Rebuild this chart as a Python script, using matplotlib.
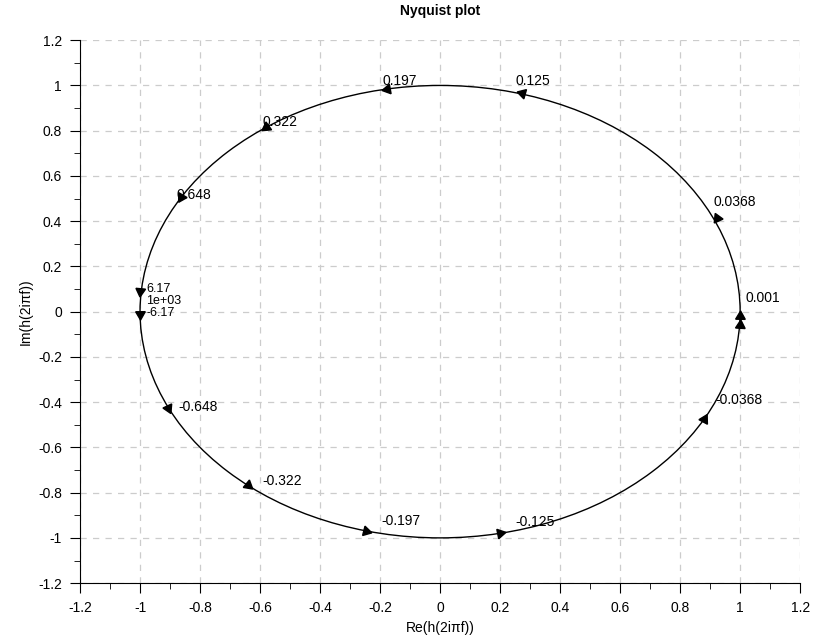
import numpy as np
import matplotlib
matplotlib.use("Agg")
import matplotlib.pyplot as plt
from matplotlib.patches import Circle
from matplotlib.ticker import MultipleLocator, FuncFormatter

plt.rcParams["font.family"] = ["Liberation Sans", "DejaVu Sans"]

# the locus is the unit circle
circle_center = (0.0, 0.0)
circle_radius = 1.0

# arrow heads along the locus
arrow_x = [1.0, 1.0, 0.923, 0.273, -0.177, -0.58, -0.863, -1.0,
           -1.0, -0.907, -0.64, -0.247, 0.2, 0.88]
arrow_y = [-0.02, -0.06, 0.414, 0.965, 0.985, 0.818, 0.507, 0.09,
           -0.01, -0.427, -0.768, -0.969, -0.98, -0.476]

# frequency labels
freq_labels = ["0.001", "0.0368", "0.125", "0.197", "0.322", "0.648", "6.17",
               "1e+03", "-6.17", "-0.648", "-0.322", "-0.197", "-0.125", "-0.0368"]
label_x = [1.017, 0.91, 0.25, -0.193, -0.593, -0.877, -0.98,
           -0.98, -0.98, -0.873, -0.593, -0.197, 0.25, 0.917]
label_y = [0.06, 0.485, 1.02, 1.02, 0.838, 0.515, 0.1,
           0.046, -0.008, -0.42, -0.75, -0.927, -0.93, -0.39]
# the three labels near -1 are crowded, draw them a bit smaller
label_size = [10, 10, 10, 10, 10, 10, 9, 9, 9, 10, 10, 10, 10, 10]

fig = plt.figure(figsize=(8.14, 6.38), dpi=100)
ax = fig.add_axes([0.0983, 0.086, 0.8847, 0.851])

ax.add_patch(Circle(circle_center, circle_radius, fill=False, color="black", lw=1.0))

# counter-clockwise traversal: triangle rotated by the polar angle points along the path
for x, y in zip(arrow_x, arrow_y):
    rot = np.degrees(np.arctan2(y, x))
    ax.plot(x, y, marker=(3, 0, rot), markersize=8, color="black", linestyle="none")

for s, x, y, fs in zip(freq_labels, label_x, label_y, label_size):
    ax.text(x, y, s, fontsize=fs, ha="left", va="center")

ax.set_xlim(-1.2, 1.2)
ax.set_ylim(-1.2, 1.2)
ax.xaxis.set_major_locator(MultipleLocator(0.2))
ax.yaxis.set_major_locator(MultipleLocator(0.2))
ax.xaxis.set_minor_locator(MultipleLocator(0.1))
ax.yaxis.set_minor_locator(MultipleLocator(0.1))
fmt = FuncFormatter(lambda v, p: "%g" % round(v, 2))
ax.xaxis.set_major_formatter(fmt)
ax.yaxis.set_major_formatter(fmt)
ax.tick_params(which="major", direction="out", length=7, labelsize=10, pad=6)
ax.tick_params(which="minor", direction="out", length=4)
ax.grid(True, which="major", linestyle=(0, (5, 5)), color="#cccccc", lw=0.9)
ax.set_axisbelow(True)

for side in ["top", "right"]:
    ax.spines[side].set_visible(False)

ax.set_title("Nyquist plot", fontsize=10, fontweight="bold", pad=18)
ax.set_xlabel("Re(h(2iπf))", fontsize=10)
ax.set_ylabel("Im(h(2iπf))", fontsize=10)

fig.savefig("out.png", dpi=100)
